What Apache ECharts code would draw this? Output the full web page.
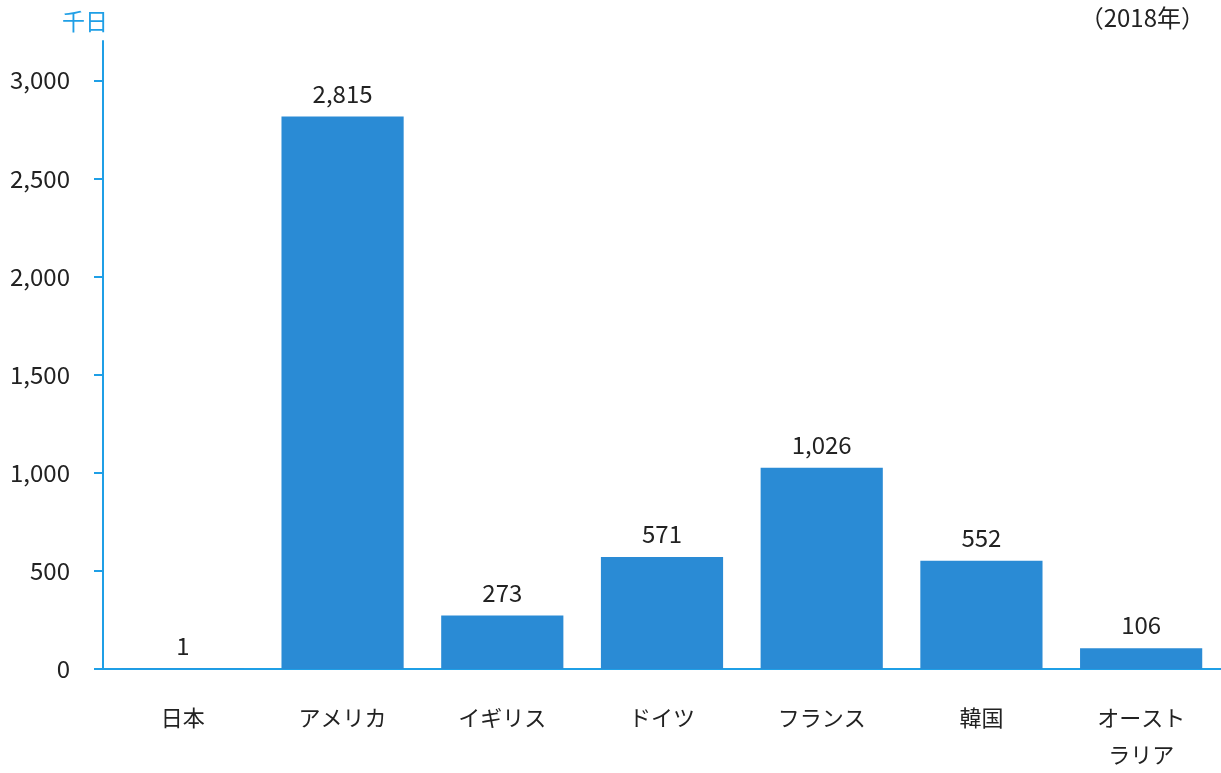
<!DOCTYPE html>
<html>
<head>
<meta charset="utf-8">
<script src="https://cdn.jsdelivr.net/npm/echarts@6/dist/echarts.min.js"></script>
<style>
  html, body { margin: 0; padding: 0; background: #fff; }
  #main { width: 1221px; height: 773px; }
</style>
</head>
<body>
<div id="main"></div>
<script>
// 国別の数値（千日, 2018年）
const categories = ['日本', 'アメリカ', 'イギリス', 'ドイツ', 'フランス', '韓国', 'オースト\nラリア'];
const values = [1, 2815, 273, 571, 1026, 552, 106];
const yTicks = [0, 500, 1000, 1500, 2000, 2500, 3000];

const axisBlue = '#1f9fe6';
const barBlue = '#2a8bd5';
const textColor = '#222';
const font = '"Noto Sans CJK JP", "Noto Sans", sans-serif';

var chart = echarts.init(document.getElementById('main'));

var option = {
    backgroundColor: '#fff',
    animation: false,
    textStyle: { fontFamily: font },
    grid: { left: 103, right: 0, top: 41, bottom: 97, containLabel: false },
    graphic: [
        {
            type: 'text', left: 62, top: 10,
            style: { text: '千日', fill: axisBlue, font: '23px ' + font }
        },
        {
            type: 'text', right: 16, top: 6,
            style: { text: '（2018年）', fill: textColor, font: '24px ' + font }
        }
    ],
    xAxis: {
        type: 'category',
        data: categories,
        axisLine: { lineStyle: { color: axisBlue, width: 2 } },
        axisTick: { show: false },
        axisLabel: {
            color: textColor, fontSize: 22, fontFamily: font,
            margin: 30, lineHeight: 37
        }
    },
    yAxis: {
        type: 'value',
        min: 0,
        max: 3200,
        splitLine: { show: false },
        axisLine: { show: true, lineStyle: { color: axisBlue, width: 2 } },
        axisTick: {
            show: true, length: 9,
            customValues: yTicks,
            lineStyle: { color: axisBlue, width: 2 }
        },
        axisLabel: {
            color: textColor, fontSize: 24, fontFamily: font, margin: 33,
            customValues: yTicks,
            formatter: function (v) { return v.toLocaleString('en-US'); }
        }
    },
    series: [
        {
            type: 'bar',
            data: values,
            barWidth: '76.5%',
            itemStyle: { color: barBlue },
            label: {
                show: true, position: 'top', distance: 11,
                color: textColor, fontSize: 24, fontFamily: font,
                formatter: function (p) { return p.value.toLocaleString('en-US'); }
            }
        }
    ]
};

chart.setOption(option);
</script>
</body>
</html>
